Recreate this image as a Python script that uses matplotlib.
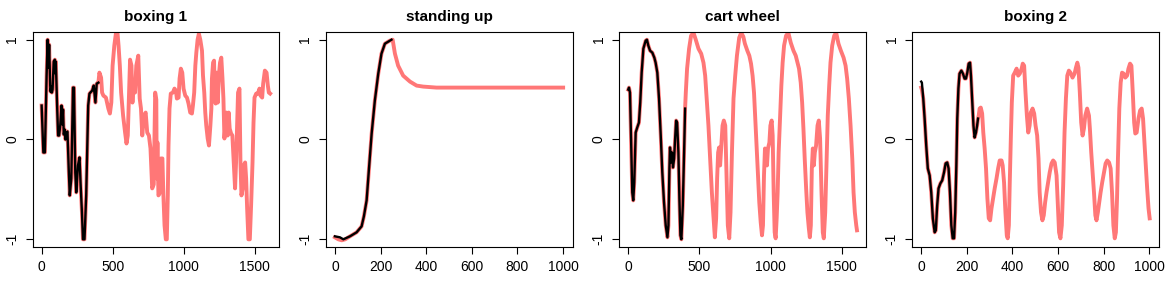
import matplotlib
matplotlib.use("Agg")
import matplotlib.pyplot as plt

plt.rcParams['font.family'] = ['Liberation Sans', 'DejaVu Sans']

titles = ["boxing 1", "standing up", "cart wheel", "boxing 2"]

# ---- boxing 1 ----
box1_black_x = [0, 12, 23, 35, 42, 48, 53, 60, 63, 68, 72, 77, 85, 93, 97, 100, 109, 116, 123, 131,
                140, 146, 151, 156, 162, 168, 175, 182, 191, 198, 209, 221, 228, 237, 244, 256, 267,
                274, 284, 291, 302, 314, 328, 337, 356, 367, 379, 388, 400]
box1_black_y = [0.34, -0.13, -0.13, 0.64, 1.0, 0.72, 0.95, 0.55, 0.48, 0.53, 0.47, 0.5, 0.78, 0.8, 0.66,
                0.78, 0.34, 0.04, 0.04, 0.14, 0.34, 0.15, 0.3, 0.05, 0.1, 0.0, 0.07, 0.08, -0.3, -0.56,
                -0.39, 0.52, 0.52, -0.33, -0.53, -0.26, -0.18, -0.43, -0.73, -1.0, -1.0, -0.56, 0.34,
                0.46, 0.49, 0.54, 0.37, 0.56, 0.57]
box1_red_x = [0, 12, 23, 35, 42, 48, 53, 60, 63, 68, 72, 77, 85, 93, 97, 100, 109, 116, 123, 131,
              140, 146, 151, 156, 162, 168, 175, 182, 191, 198, 209, 221, 228, 237, 244, 256, 267,
              274, 284, 291, 302, 314, 328, 337, 356, 367, 379, 388, 400,
              407, 419, 426, 435, 453, 470, 481, 491, 500, 512, 523, 535, 542, 551, 560, 574, 588,
              598, 607, 616, 623, 633, 640, 647, 658, 667, 681, 691, 700, 709, 721, 733, 744, 756,
              767, 779, 790, 800, 808, 811, 816, 823, 835, 840, 851, 858, 866, 875, 882, 889, 894,
              901, 910, 925, 936, 946, 953, 965, 972, 981, 991, 1000, 1012, 1024, 1035, 1047, 1059,
              1066, 1075, 1083, 1090, 1099, 1108, 1118, 1130, 1137, 1146, 1153, 1160, 1170, 1179,
              1189, 1196, 1200, 1208, 1215, 1219, 1226, 1233, 1241, 1250, 1257, 1266, 1274, 1281,
              1288, 1295, 1302, 1311, 1318, 1325, 1335, 1344, 1354, 1363, 1370, 1377, 1384, 1394,
              1401, 1408, 1417, 1424, 1434, 1441, 1448, 1457, 1467, 1476, 1486, 1493, 1500, 1512,
              1524, 1535, 1542, 1554, 1561, 1573, 1585, 1594, 1601, 1610]
box1_red_y = [0.34, -0.13, -0.13, 0.64, 1.0, 0.72, 0.95, 0.55, 0.48, 0.53, 0.47, 0.5, 0.78, 0.8, 0.66,
              0.78, 0.34, 0.04, 0.04, 0.14, 0.34, 0.15, 0.3, 0.05, 0.1, 0.0, 0.07, 0.08, -0.3, -0.56,
              -0.39, 0.52, 0.52, -0.33, -0.53, -0.26, -0.18, -0.43, -0.73, -1.0, -1.0, -0.56, 0.34,
              0.46, 0.49, 0.54, 0.37, 0.56, 0.57,
              0.67, 0.62, 0.47, 0.44, 0.42, 0.31, 0.26, 0.37, 0.74, 0.94, 1.06, 1.06, 0.94, 0.74,
              0.47, 0.24, 0.07, -0.04, 0.04, 0.47, 0.8, 0.74, 0.37, 0.57, 0.47, 0.74, 0.84, 0.41,
              0.31, 0.04, 0.24, 0.27, 0.07, 0.04, -0.09, -0.49, -0.45, 0.47, 0.4, -0.39, -0.03,
              -0.56, -0.53, -0.19, -0.19, -0.56, -0.86, -1.0, -1.0, -0.56, -0.06, 0.31, 0.46, 0.47,
              0.51, 0.49, 0.41, 0.42, 0.61, 0.71, 0.67, 0.51, 0.44, 0.42, 0.36, 0.27, 0.26, 0.34,
              0.47, 0.74, 0.87, 1.0, 1.06, 1.0, 0.89, 0.64, 0.47, 0.27, 0.14, 0.01, -0.06, 0.14,
              0.31, 0.61, 0.77, 0.79, 0.47, 0.36, 0.67, 0.37, 0.66, 0.77, 0.82, 0.62, 0.41, 0.01,
              0.14, 0.27, 0.04, 0.27, 0.11, 0.06, 0.04, -0.23, -0.49, -0.23, 0.14, 0.47, 0.51,
              -0.23, -0.56, -0.49, -0.26, -0.23, -0.39, -0.69, -1.0, -1.0, -0.66, -0.23, 0.17,
              0.42, 0.46, 0.46, 0.51, 0.44, 0.42, 0.56, 0.69, 0.67, 0.54, 0.47, 0.46]

# ---- standing up ----
stand_black_x = [0, 22, 37, 66, 95, 117, 127, 139, 150, 161, 175, 190, 204, 219, 248]
stand_black_y = [-0.97, -0.98, -1.0, -0.97, -0.93, -0.87, -0.77, -0.61, -0.27, 0.06, 0.39, 0.66,
                 0.86, 0.96, 1.0]
stand_red_x = [0, 15, 30, 45, 66, 95, 117, 127, 139, 150, 161, 175, 190, 204, 219, 240, 253, 263,
               277, 299, 329, 358, 387, 445, 600, 800, 1000]
stand_red_y = [-0.98, -1.0, -1.01, -1.0, -0.97, -0.93, -0.87, -0.77, -0.61, -0.27, 0.06, 0.39, 0.66,
               0.86, 0.96, 0.99, 1.0, 0.86, 0.74, 0.64, 0.58, 0.54, 0.53, 0.52, 0.52, 0.52, 0.52]

# ---- cart wheel ----
cart_black_x = [0, 5, 12, 19, 28, 35, 42, 52, 63, 75, 84, 94, 106, 122, 131, 141, 153, 169, 183,
                192, 204, 216, 228, 239, 251, 263, 275, 282, 289, 293, 300, 307, 314, 322, 329, 336,
                343, 352, 359, 366, 373, 383, 392, 399]
cart_black_y = [0.5, 0.52, 0.47, 0.04, -0.53, -0.61, -0.43, 0.07, 0.12, 0.17, 0.37, 0.67, 0.91, 0.99,
                1.0, 0.94, 0.89, 0.87, 0.82, 0.77, 0.67, 0.41, 0.04, -0.33, -0.63, -0.86, -0.98,
                -0.86, -0.29, -0.08, -0.23, -0.13, -0.28, -0.19, 0.01, 0.19, 0.17, -0.13, -0.59,
                -0.96, -1.0, -0.66, -0.13, 0.31]
cart_red_x = [0, 5, 12, 19, 28, 35, 42, 52, 63, 75, 84, 94, 106, 122, 131, 141, 153, 169, 183,
              192, 204, 216, 228, 239, 251, 263, 275, 282, 289, 293, 300, 307, 314, 322, 329, 336,
              343, 352, 359, 366, 373, 383, 392, 399,
              404, 413, 427, 441, 458, 474, 493, 512, 528, 540, 552, 563, 575, 587, 599, 608, 617,
              624, 631, 638, 645, 652, 662, 671, 681, 690, 699, 709, 718, 728, 739, 751, 763, 779,
              793, 808, 819, 836, 850, 862, 873, 883, 892, 901, 911, 920, 930, 939, 946, 953, 960,
              967, 974, 981, 991, 998, 1007, 1014, 1021, 1028, 1035, 1042, 1049, 1056, 1066, 1075,
              1084, 1094, 1108, 1124, 1141, 1160, 1176, 1188, 1199, 1211, 1221, 1230, 1239, 1249,
              1258, 1268, 1275, 1282, 1289, 1296, 1303, 1310, 1319, 1329, 1338, 1347, 1357, 1366,
              1373, 1383, 1392, 1401, 1411, 1420, 1432, 1446, 1460, 1476, 1493, 1512, 1526, 1537,
              1549, 1561, 1573, 1582, 1591, 1601, 1606]
cart_red_y = [0.5, 0.52, 0.47, 0.04, -0.53, -0.61, -0.43, 0.07, 0.12, 0.17, 0.37, 0.67, 0.91, 0.99,
              1.0, 0.94, 0.89, 0.87, 0.82, 0.77, 0.67, 0.41, 0.04, -0.33, -0.63, -0.86, -0.98,
              -0.86, -0.29, -0.08, -0.23, -0.13, -0.28, -0.19, 0.01, 0.19, 0.17, -0.13, -0.59,
              -0.96, -1.0, -0.66, -0.13, 0.31,
              0.47, 0.71, 0.91, 1.04, 1.07, 1.0, 0.91, 0.86, 0.77, 0.64, 0.37, 0.14, -0.19, -0.53,
              -0.79, -0.98, -0.79, -0.39, -0.13, -0.08, -0.26, -0.09, 0.14, 0.19, 0.14, -0.36,
              -0.86, -0.99, -0.73, -0.13, 0.41, 0.64, 0.84, 1.02, 1.07, 1.03, 0.96, 0.89, 0.84,
              0.76, 0.64, 0.47, 0.21, -0.06, -0.36, -0.63, -0.83, -0.96, -0.86, -0.36, -0.09,
              -0.13, -0.26, -0.09, -0.03, 0.14, 0.19, 0.04, -0.53, -0.93, -0.99, -0.79, -0.53,
              -0.13, 0.21, 0.54, 0.77, 0.94, 1.04, 1.07, 0.97, 0.89, 0.84, 0.77, 0.71, 0.57, 0.37,
              0.11, -0.19, -0.49, -0.73, -0.89, -0.98, -0.86, -0.29, -0.09, -0.26, -0.13, -0.06,
              0.14, 0.19, 0.01, -0.53, -0.93, -0.99, -0.73, -0.26, 0.24, 0.54, 0.77, 0.94, 1.04,
              1.07, 0.96, 0.89, 0.82, 0.74, 0.61, 0.41, 0.14, -0.19, -0.53, -0.73, -0.86, -0.91]

# ---- boxing 2 ----
box2_black_x = [0, 3, 9, 15, 22, 29, 37, 44, 51, 59, 64, 70, 76, 84, 92, 100, 107, 114, 120, 126,
                132, 138, 144, 149, 154, 158, 163, 168, 176, 183, 190, 196, 202, 208, 214, 218, 223,
                229, 234, 240, 245, 249]
box2_black_y = [0.58, 0.57, 0.41, 0.21, -0.06, -0.29, -0.36, -0.53, -0.79, -0.93, -0.91, -0.66,
                -0.49, -0.44, -0.41, -0.33, -0.24, -0.23, -0.29, -0.53, -0.86, -0.99, -0.99, -0.73,
                -0.26, 0.21, 0.51, 0.66, 0.69, 0.66, 0.61, 0.61, 0.67, 0.76, 0.77, 0.64, 0.41, 0.14,
                0.02, 0.07, 0.14, 0.21]
box2_red_x = [0, 3, 9, 15, 22, 29, 37, 44, 51, 59, 64, 70, 76, 84, 92, 100, 107, 114, 120, 126,
              132, 138, 144, 149, 154, 158, 163, 168, 176, 183, 190, 196, 202, 208, 214, 218, 223,
              229, 234, 240, 245, 249,
              252, 256, 261, 267, 272, 278, 284, 290, 296, 302, 308, 315, 322, 330, 337, 344, 352,
              357, 363, 369, 375, 379, 384, 388, 393, 397, 403, 410, 418, 425, 432, 440, 445, 451,
              457, 463, 469, 475, 480, 488, 495, 501, 508, 514, 519, 525, 531, 537, 543, 549, 556,
              563, 571, 578, 585, 593, 599, 604, 610, 616, 622, 628, 634, 640, 647, 654, 663, 672,
              678, 684, 689, 695, 701, 707, 713, 719, 727, 735, 739, 745, 751, 757, 763, 768, 774,
              780, 786, 793, 801, 808, 815, 823, 830, 836, 842, 848, 853, 858, 862, 868, 874, 880,
              887, 894, 902, 908, 915, 921, 927, 933, 938, 944, 952, 959, 966, 972, 978, 984, 990,
              996, 1001]
box2_red_y = [0.52, 0.5, 0.41, 0.21, -0.06, -0.29, -0.36, -0.53, -0.79, -0.93, -0.91, -0.66,
              -0.49, -0.44, -0.41, -0.33, -0.24, -0.23, -0.29, -0.53, -0.86, -0.99, -0.99, -0.73,
              -0.26, 0.21, 0.51, 0.66, 0.69, 0.66, 0.61, 0.61, 0.67, 0.76, 0.77, 0.64, 0.41, 0.14,
              0.02, 0.07, 0.14, 0.21,
              0.24, 0.31, 0.32, 0.26, 0.07, -0.09, -0.29, -0.59, -0.79, -0.81, -0.69, -0.59, -0.49,
              -0.39, -0.29, -0.21, -0.21, -0.26, -0.43, -0.73, -0.96, -0.99, -0.86, -0.43, 0.04,
              0.37, 0.64, 0.67, 0.71, 0.64, 0.66, 0.71, 0.76, 0.74, 0.47, 0.24, 0.07, 0.14, 0.27,
              0.31, 0.26, 0.14, 0.04, -0.19, -0.53, -0.73, -0.81, -0.76, -0.63, -0.53, -0.43,
              -0.33, -0.24, -0.21, -0.23, -0.36, -0.66, -0.93, -0.99, -0.86, -0.46, 0.07, 0.41,
              0.64, 0.69, 0.67, 0.62, 0.66, 0.72, 0.77, 0.72, 0.47, 0.17, 0.04, 0.11, 0.24, 0.31,
              0.24, 0.11, -0.13, -0.33, -0.53, -0.76, -0.81, -0.73, -0.63, -0.53, -0.43, -0.33,
              -0.24, -0.21, -0.23, -0.29, -0.53, -0.86, -0.99, -0.93, -0.59, -0.19, 0.31, 0.57,
              0.67, 0.66, 0.62, 0.64, 0.71, 0.76, 0.74, 0.47, 0.17, 0.06, 0.07, 0.21, 0.29, 0.31,
              0.21, -0.03, -0.26, -0.49, -0.69, -0.79]

panels = [
    (box1_red_x, box1_red_y, box1_black_x, box1_black_y, [0, 500, 1000, 1500], (-63, 1674)),
    (stand_red_x, stand_red_y, stand_black_x, stand_black_y, [0, 200, 400, 600, 800, 1000], (-39, 1041)),
    (cart_red_x, cart_red_y, cart_black_x, cart_black_y, [0, 500, 1000, 1500], (-63, 1668)),
    (box2_red_x, box2_red_y, box2_black_x, box2_black_y, [0, 200, 400, 600, 800, 1000], (-39, 1041)),
]

W, H = 1173, 287
fig = plt.figure(figsize=(W / 100, H / 100), dpi=100)
lefts_px = [32.7, 326.0, 619.3, 912.3]
ax_w_px, ax_top_px, ax_bot_px = 246.5, 31.7, 247.3

red = '#FF7777'
for i, (rx, ry, bx, by, xt, xl) in enumerate(panels):
    ax = fig.add_axes([lefts_px[i] / W, 1 - ax_bot_px / H, ax_w_px / W, (ax_bot_px - ax_top_px) / H])
    ax.plot(rx, ry, color=red, lw=2.8, solid_joinstyle='round')
    ax.plot(bx, by, color='black', lw=1.7, solid_joinstyle='round')
    ax.set_xlim(*xl)
    ax.set_ylim(-1.08, 1.08)
    ax.set_xticks(xt)
    ax.set_xticklabels([str(v) for v in xt])
    ax.set_yticks([-1, 0, 1])
    ax.set_yticklabels(["-1", "0", "1"], rotation=90, va='center')
    ax.tick_params(direction='out', length=4.8, width=0.8, labelsize=10, color='black')
    ax.tick_params(axis='x', pad=4)
    ax.tick_params(axis='y', pad=5)
    for s in ax.spines.values():
        s.set_linewidth(0.8)
        s.set_color('black')
    ax.set_title(titles[i], fontsize=11, fontweight='bold', pad=8)

fig.savefig("out.png", dpi=100)
